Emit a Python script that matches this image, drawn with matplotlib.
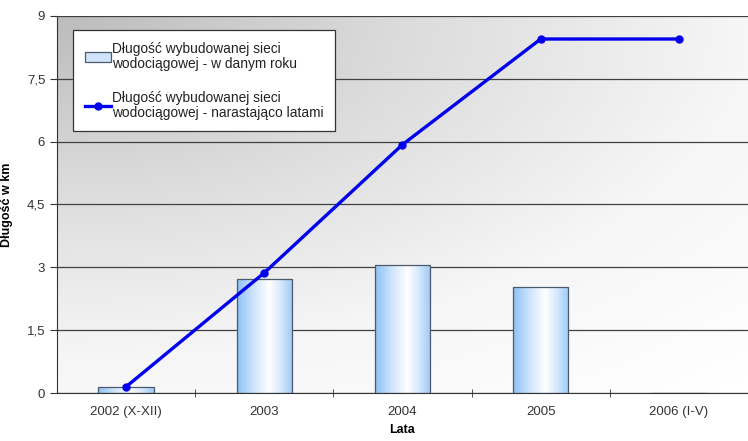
import numpy as np
import matplotlib.pyplot as plt
from matplotlib.colors import LinearSegmentedColormap
from matplotlib.patches import Rectangle

plt.rcParams['font.family'] = ['Liberation Sans', 'DejaVu Sans']

# dane
lata = ['2002 (X-XII)', '2003', '2004', '2005', '2006 (I-V)']
w_roku = [0.15, 2.72, 3.05, 2.52, 0.0]
narastajaco = [0.15, 2.87, 5.93, 8.45, 8.45]
y_ticks = [0, 1.5, 3, 4.5, 6, 7.5, 9]
y_labels = ['0', '1,5', '3', '4,5', '6', '7,5', '9']

fig = plt.figure(figsize=(7.48, 4.41), dpi=100)
ax = fig.add_axes([0.0762, 0.1088, 0.9238, 0.855])
x = np.arange(len(lata))
ax.set_xlim(-0.5, len(lata) - 0.5)
ax.set_ylim(0, 9)

# tło: gradient od lewego górnego rogu (szary) do prawego dolnego (biały)
u = np.linspace(0, 1, 300)
v = np.linspace(0, 1, 200)
U, V = np.meshgrid(u, v)          # V = 0 u góry
d = np.clip(np.sqrt(U ** 2 + (1.1 * V) ** 2) / 1.45, 0, 1)
bg = LinearSegmentedColormap.from_list(
    'bg', [(0, '#bcbcbc'), (0.35, '#dcdcdc'), (0.69, '#f6f6f6'), (1, '#ffffff')])
ax.imshow(d, aspect='auto', cmap=bg, origin='upper',
          extent=[-0.5, len(lata) - 0.5, 0, 9], zorder=0)

ax.grid(axis='y', color='#404040', linewidth=0.9, zorder=1)
ax.set_axisbelow(True)

# słupki z poziomym gradientem
bar_cm = LinearSegmentedColormap.from_list(
    'bar', [(0, '#8cc1f7'), (0.3, '#cfe5fc'), (0.58, '#ffffff'), (0.8, '#d3e7fc'), (1, '#9cc9f7')])
hgrad = np.linspace(0, 1, 128).reshape(1, -1)
szer = 0.4
bars = ax.bar(x, w_roku, width=szer, color='none', edgecolor='#4a5a6a',
              linewidth=0.9, zorder=3)
for xi, h in zip(x, w_roku):
    if h <= 0:
        continue
    im = ax.imshow(hgrad, aspect='auto', cmap=bar_cm,
                   extent=[xi - szer / 2, xi + szer / 2, 0, h], zorder=2)
    im.set_clip_path(Rectangle((xi - szer / 2, 0), szer, h, transform=ax.transData))

linia, = ax.plot(x, narastajaco, color='#0000ee', linewidth=2.4, marker='o',
                 markersize=5, zorder=4)

ax.set_xlim(-0.5, len(lata) - 0.5)
ax.set_ylim(0, 9)
ax.set_yticks(y_ticks)
ax.set_yticklabels(y_labels, fontsize=9.5, color='#333333')
ax.set_xticks(x)
ax.set_xticklabels(lata, fontsize=9.5, color='#333333')
ax.set_xticks(np.arange(0.5, len(lata) - 0.5, 1), minor=True)
ax.tick_params(axis='x', which='major', length=0, pad=9)
ax.tick_params(axis='x', which='minor', length=6, direction='inout', color='#333333')
ax.tick_params(axis='y', length=5, direction='out', color='#333333')
for s in ['top', 'right']:
    ax.spines[s].set_visible(False)
ax.spines['left'].set_color('#333333')
ax.spines['bottom'].set_color('#333333')

ax.set_ylabel('Długość w km', fontsize=9, fontweight='bold', labelpad=10)
ax.set_xlabel('Lata', fontsize=9, fontweight='bold', labelpad=5)

patch_leg = Rectangle((0, 0), 1, 1, facecolor='#cfe4fa', edgecolor='#4a5a6a', linewidth=0.9)
leg = ax.legend([patch_leg, linia],
                ['Długość wybudowanej sieci\nwodociągowej - w danym roku',
                 'Długość wybudowanej sieci\nwodociągowej - narastająco latami'],
                loc='upper left', bbox_to_anchor=(0.023, 0.963), borderaxespad=0,
                fontsize=9.9, frameon=True, fancybox=False, framealpha=1,
                edgecolor='#333333', handlelength=1.9, handletextpad=0.1,
                labelspacing=1.45, borderpad=0.85)
for t in leg.get_texts():
    t.set_linespacing(1.1)
    t.set_color('#222222')
leg.get_frame().set_linewidth(0.9)
leg.set_zorder(5)

fig.savefig('out.png', dpi=100)
